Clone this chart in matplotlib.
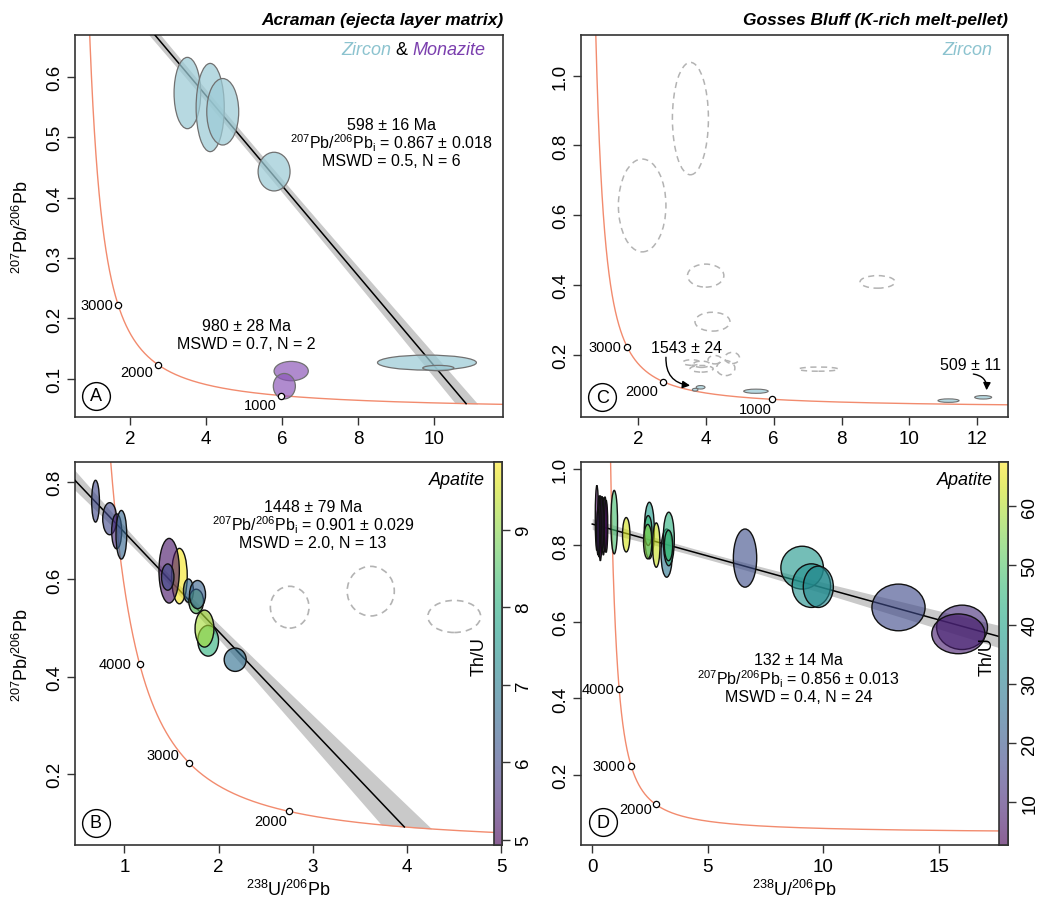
import numpy as np
import matplotlib
matplotlib.use('Agg')
import matplotlib.pyplot as plt
from matplotlib.patches import Ellipse
from matplotlib.colors import Normalize, to_rgba

plt.rcParams['font.family'] = ['Liberation Sans', 'DejaVu Sans']
plt.rcParams['mathtext.fontset'] = 'custom'
plt.rcParams['mathtext.rm'] = 'Liberation Sans'
plt.rcParams['mathtext.it'] = 'Liberation Sans:italic'
plt.rcParams['mathtext.bf'] = 'Liberation Sans:bold'

# ---------------- constants for Tera-Wasserburg concordia ----------------
L238 = 1.55125e-4   # per Ma
L235 = 9.8485e-4
U85 = 137.818
conc_ages = [1000, 2000, 3000, 4000]

# ---------------- Panel A : Acraman zircon & monazite ----------------
A_zr_x = [3.51, 4.11, 4.44, 5.79, 9.81, 10.11]
A_zr_y = [0.573, 0.549, 0.542, 0.443, 0.127, 0.118]
A_zr_sx = [0.35, 0.37, 0.42, 0.42, 1.30, 0.41]
A_zr_sy = [0.059, 0.073, 0.055, 0.032, 0.0124, 0.0044]
A_mz_x = [6.24, 6.06]
A_mz_y = [0.113, 0.088]
A_mz_sx = [0.45, 0.29]
A_mz_sy = [0.016, 0.021]
A_y0 = 0.867
A_x1 = 10.84
A_text = ["598 ± 16 Ma", "$^{207}$Pb/$^{206}$Pb$_{\\mathrm{i}}$ = 0.867 ± 0.018", "MSWD = 0.5, N = 6"]
A_text2 = ["980 ± 28 Ma", "MSWD = 0.7, N = 2"]

# ---------------- Panel B : Acraman apatite ----------------
B_x = [0.694, 0.844, 0.918, 0.968, 1.584, 1.475, 1.46, 1.68, 1.762, 1.776, 1.889, 1.85, 2.176]
B_y = [0.761, 0.725, 0.699, 0.692, 0.607, 0.618, 0.605, 0.577, 0.555, 0.569, 0.474, 0.499, 0.435]
B_sx = [0.041, 0.074, 0.053, 0.057, 0.083, 0.108, 0.066, 0.053, 0.078, 0.085, 0.11, 0.10, 0.117]
B_sy = [0.043, 0.033, 0.036, 0.050, 0.057, 0.0665, 0.027, 0.024, 0.025, 0.029, 0.0316, 0.038, 0.024]
B_thu = [6.0, 6.0, 5.5, 6.5, 9.8, 5.2, 6.0, 6.6, 8.6, 6.4, 8.1, 9.2, 6.7]
B_ex_x = [2.754, 3.614, 4.50]
B_ex_y = [0.543, 0.576, 0.524]
B_ex_sx = [0.205, 0.25, 0.28]
B_ex_sy = [0.043, 0.051, 0.033]
B_y0 = 0.901
B_age = 1448
B_text = ["1448 ± 79 Ma", "$^{207}$Pb/$^{206}$Pb$_{\\mathrm{i}}$ = 0.901 ± 0.029", "MSWD = 2.0, N = 13"]
B_cb_ticks = [5, 6, 7, 8, 9]

# ---------------- Panel C : Gosses Bluff zircon ----------------
C_ex_x = [2.13, 3.55, 4.00, 4.20, 9.06, 7.32, 3.58, 3.88, 3.88, 4.27, 4.59, 4.78]
C_ex_y = [0.628, 0.877, 0.427, 0.295, 0.409, 0.159, 0.178, 0.173, 0.160, 0.186, 0.162, 0.191]
C_ex_sx = [0.70, 0.53, 0.535, 0.515, 0.515, 0.59, 0.255, 0.245, 0.34, 0.20, 0.27, 0.216]
C_ex_sy = [0.133, 0.161, 0.033, 0.027, 0.018, 0.006, 0.008, 0.009, 0.0095, 0.012, 0.0215, 0.016]
C_zr_x = [3.85, 3.69, 5.48, 11.15, 12.17]
C_zr_y = [0.107, 0.100, 0.0957, 0.0688, 0.0783]
C_zr_sx = [0.13, 0.083, 0.36, 0.31, 0.25]
C_zr_sy = [0.005, 0.004, 0.006, 0.005, 0.005]
C_ann = ["1543 ± 24", "509 ± 11"]

# ---------------- Panel D : Gosses Bluff apatite ----------------
D_x = [0.20, 0.30, 0.35, 0.42, 0.48, 0.55, 0.60, 0.25, 0.95, 1.47, 2.47, 2.42, 2.40, 2.77,
       3.22, 3.31, 3.30, 6.61, 9.08, 9.48, 9.78, 13.25, 16.0, 15.84]
D_y = [0.872, 0.850, 0.845, 0.858, 0.850, 0.855, 0.850, 0.835, 0.861, 0.828, 0.839, 0.839, 0.810, 0.801,
       0.780, 0.817, 0.800, 0.767, 0.742, 0.695, 0.692, 0.638, 0.586, 0.569]
D_sx = [0.07, 0.08, 0.07, 0.08, 0.07, 0.08, 0.07, 0.06, 0.144, 0.16, 0.216, 0.16, 0.18, 0.16,
        0.245, 0.24, 0.18, 0.505, 0.92, 0.83, 0.65, 1.15, 1.10, 1.15]
D_sy = [0.085, 0.080, 0.085, 0.070, 0.075, 0.072, 0.068, 0.060, 0.083, 0.045, 0.074, 0.039, 0.045, 0.058,
        0.063, 0.070, 0.040, 0.076, 0.056, 0.057, 0.054, 0.061, 0.058, 0.052]
D_thu = [4, 6, 3, 7, 5, 8, 4, 9, 48, 63, 38, 46, 56, 62,
         28, 44, 47, 18, 37, 35, 33, 17, 11, 8]
D_y0 = 0.856
D_age = 132
D_text = ["132 ± 14 Ma", "$^{207}$Pb/$^{206}$Pb$_{\\mathrm{i}}$ = 0.856 ± 0.013", "MSWD = 0.4, N = 24"]
D_cb_ticks = [10, 20, 30, 40, 50, 60]


def concordia(t):
    e8 = np.exp(L238 * np.asarray(t, float)) - 1
    e5 = np.exp(L235 * np.asarray(t, float)) - 1
    return 1 / e8, e5 / e8 / U85


def conc_y_from_x(x):
    t = np.log1p(1 / np.asarray(x, float)) / L238
    return concordia(t)[1]


W, H = 1037, 903
fig = plt.figure(figsize=(W / 100, H / 100), dpi=100)


def px_axes(l, t, r, b):
    return fig.add_axes([l / W, 1 - b / H, (r - l) / W, (b - t) / H])


axA = px_axes(75, 36, 503, 418)
axC = px_axes(580.7, 36, 1008.3, 418.3)
axB = px_axes(75, 463.3, 502.3, 846)
axD = px_axes(580.7, 463.3, 1008.3, 846)

lims = {
    'A': ((0.555, 11.81), (0.037, 0.669)),
    'B': ((0.476, 5.01), (0.054, 0.841)),
    'C': ((0.32, 12.91), (0.021, 1.1165)),
    'D': ((-0.50, 18.0), (0.017, 1.0174)),
}
xt = {'A': [2, 4, 6, 8, 10], 'B': [1, 2, 3, 4, 5], 'C': [2, 4, 6, 8, 10, 12], 'D': [0, 5, 10, 15]}
yt = {'A': [0.1, 0.2, 0.3, 0.4, 0.5, 0.6], 'B': [0.2, 0.4, 0.6, 0.8],
      'C': [0.2, 0.4, 0.6, 0.8, 1.0], 'D': [0.2, 0.4, 0.6, 0.8, 1.0]}

CONC_COL = '#f28b6e'
SPINE = '#333333'
TICK_FS = 13.5

for key, ax in zip('ABCD', [axA, axB, axC, axD]):
    ax.set_xlim(*lims[key][0])
    ax.set_ylim(*lims[key][1])
    ax.set_xticks(xt[key])
    ax.set_xticklabels([str(v) for v in xt[key]])
    ax.set_yticks(yt[key])
    ax.set_yticklabels(['{:.1f}'.format(v) for v in yt[key]])
    ax.tick_params(direction='out', length=5.5, width=1, pad=3, labelsize=TICK_FS, color=SPINE)
    ax.tick_params(axis='x', pad=4)
    for lbl in ax.get_yticklabels():
        lbl.set_rotation(90)
        lbl.set_va('center')
    for s in ax.spines.values():
        s.set_color(SPINE)
        s.set_linewidth(1.2)
    # concordia
    tt = np.linspace(15, 6500, 3000)
    cx, cy = concordia(tt)
    ax.plot(cx, cy, color=CONC_COL, lw=1.0, zorder=2)


def add_ellipses(ax, xs, ys, sx, sy, fcs, ec, lw=1.0, ls='-', z=4):
    for i, (x, y, a, b) in enumerate(zip(xs, ys, sx, sy)):
        fc = fcs[i] if isinstance(fcs, list) else fcs
        ax.add_patch(Ellipse((x, y), 2 * a, 2 * b, facecolor=fc, edgecolor=ec,
                             lw=lw, linestyle=ls, zorder=z))


def draw_isochron(ax, y0, x1, y1, xc, a, b, xmin, xmax):
    slope = (y1 - y0) / x1
    xs = np.linspace(xmin, xmax, 800)
    w = np.sqrt(a ** 2 + (b * (xs - xc)) ** 2)
    yl = y0 + slope * xs
    up = yl + w
    lo = np.where(xs > 0.7 * x1, np.maximum(yl - w, conc_y_from_x(xs)), yl - w)
    ax.fill_between(xs, lo, up, where=up > lo, color='#c9c9c9', lw=0, zorder=1)
    xe = min(x1, xmax)
    ax.plot([xmin, xe], [y0 + slope * xmin, y0 + slope * xe], color='black', lw=1.1, zorder=3)


def conc_markers(ax, offsets, ages):
    cx, cy = concordia(ages)
    ax.plot(cx, cy, 'o', ms=4.5, mfc='white', mec='black', mew=0.9, zorder=6)
    for age, x, y, off in zip(ages, cx, cy, offsets):
        ax.annotate(str(age), (x, y), xytext=off, textcoords='offset points',
                    ha='right', va='center', fontsize=10.5, zorder=7)


def panel_letter(ax, letter, pos):
    ax.plot(*pos, 'o', ms=20, mfc='white', mec='black', mew=1.0, transform=ax.transAxes,
            clip_on=False, zorder=10)
    ax.text(*pos, letter, transform=ax.transAxes, ha='center', va='center', fontsize=13, zorder=11)


ZR_FC = to_rgba('#9ccbd6', 0.72)
ZR_EC = '#707070'
MZ_FC = to_rgba('#8b55b8', 0.68)
cmap = plt.get_cmap('viridis')

# ---------------- Panel A ----------------
xA1 = A_x1
yA1 = float(conc_y_from_x(A_x1))
draw_isochron(axA, A_y0, xA1, yA1, 4.5, 0.010, 0.003, 0.0, A_x1 + 0.6)
add_ellipses(axA, A_zr_x, A_zr_y, A_zr_sx, A_zr_sy, ZR_FC, ZR_EC, lw=0.9)
add_ellipses(axA, A_mz_x, A_mz_y, A_mz_sx, A_mz_sy, MZ_FC, ZR_EC, lw=0.9)
conc_markers(axA, [(-3.5, 0), (-3.7, -5), (-2.7, -6.5)], [3000, 2000, 1000])
for s, yy in zip(A_text, [0.5207, 0.4909, 0.4607]):
    axA.text(8.88, yy, s, ha='center', va='center', fontsize=11.5, zorder=8)
for s, yy in zip(A_text2, [0.1884, 0.158]):
    axA.text(5.07, yy, s, ha='center', va='center', fontsize=11.5, zorder=8)
t3 = axA.text(0.96, 0.961, "Monazite", transform=axA.transAxes, ha='right', va='center',
              fontsize=13, style='italic', color='#7b3fae')
t2 = axA.annotate(" & ", xy=(0, 0), xycoords=t3, ha='right', va='bottom', fontsize=13, color='black')
axA.annotate("Zircon", xy=(0, 0), xycoords=t2, ha='right', va='bottom', fontsize=13,
             style='italic', color='#8cc3cf')
axA.set_title('Acraman (ejecta layer matrix)', loc='right', fontsize=12.5, fontweight='bold',
              style='italic', pad=8)
panel_letter(axA, 'A', (0.049, 0.055))

# ---------------- Panel B ----------------
normB = Normalize(4.93, 9.87)
xB1, yB1 = concordia(B_age)
draw_isochron(axB, B_y0, float(xB1), float(yB1), 1.4, 0.010, 0.019, 0.0, float(xB1) + 0.5)
add_ellipses(axB, B_ex_x, B_ex_y, B_ex_sx, B_ex_sy, 'none', '#b3b3b3', lw=1.2, ls=(0, (4, 3)))
add_ellipses(axB, B_x, B_y, B_sx, B_sy, [to_rgba(cmap(normB(v)), 0.62) for v in B_thu], '#111111', lw=1.0)
conc_markers(axB, [(-5.8, 0), (-7, 5.7), (-1.6, -7)], [4000, 3000, 2000])
for s, yy in zip(B_text, [0.7506, 0.7128, 0.6751]):
    axB.text(3.0, yy, s, ha='center', va='center', fontsize=11.5, zorder=8)
axB.text(0.96, 0.955, "Apatite", transform=axB.transAxes, ha='right', va='center',
         fontsize=13, style='italic')
panel_letter(axB, 'B', (0.049, 0.0575))

# ---------------- Panel C ----------------
add_ellipses(axC, C_ex_x, C_ex_y, C_ex_sx, C_ex_sy, 'none', '#b3b3b3', lw=1.1, ls=(0, (4, 3)))
add_ellipses(axC, C_zr_x, C_zr_y, C_zr_sx, C_zr_sy, ZR_FC, ZR_EC, lw=0.8)
conc_markers(axC, [(-3.9, 0), (-3.5, -6.4), (0, -6.9)], [3000, 2000, 1000])
axC.text(3.44, 0.22, C_ann[0], ha='center', va='center', fontsize=11.5)
axC.text(11.79, 0.172, C_ann[1], ha='center', va='center', fontsize=11.5)
axC.annotate('', xy=(3.54, 0.112), xytext=(2.83, 0.193),
             arrowprops=dict(arrowstyle='-|>', color='black', lw=1.0, mutation_scale=11,
                             connectionstyle='arc3,rad=0.45', shrinkA=0, shrinkB=0))
axC.annotate('', xy=(12.27, 0.0985), xytext=(11.88, 0.145),
             arrowprops=dict(arrowstyle='-|>', color='black', lw=1.0, mutation_scale=11,
                             connectionstyle='arc3,rad=-0.45', shrinkA=0, shrinkB=0))
axC.text(0.963, 0.961, "Zircon", transform=axC.transAxes, ha='right', va='center',
         fontsize=13, style='italic', color='#8cc3cf')
axC.set_title('Gosses Bluff (K-rich melt-pellet)', loc='right', fontsize=12.5, fontweight='bold',
              style='italic', pad=8)
panel_letter(axC, 'C', (0.0505, 0.053))

# ---------------- Panel D ----------------
normD = Normalize(2.8, 67.4)
xD1, yD1 = concordia(D_age)
draw_isochron(axD, D_y0, float(xD1), float(yD1), 5.0, 0.009, 0.0022, 0.0, 18.0)
add_ellipses(axD, D_x, D_y, D_sx, D_sy, [to_rgba(cmap(normD(v)), 0.62) for v in D_thu], '#111111', lw=1.0)
conc_markers(axD, [(-3, 0), (-4.5, 0), (-3, -3.3)], [4000, 3000, 2000])
for s, yy in zip(D_text, [0.5015, 0.4527, 0.4048]):
    axD.text(8.92, yy, s, ha='center', va='center', fontsize=11.5, zorder=8)
axD.text(0.9635, 0.955, "Apatite", transform=axD.transAxes, ha='right', va='center',
         fontsize=13, style='italic')
panel_letter(axD, 'D', (0.051, 0.059))

# ---------------- colour bars ----------------
def colorbar(l, r, norm, ticks, label_x):
    cax = px_axes(l, 463.3, r, 846)
    grad = np.linspace(norm.vmin, norm.vmax, 256).reshape(-1, 1)
    cax.imshow(grad, cmap=cmap, norm=norm, alpha=0.62, aspect='auto', origin='lower',
               extent=(0, 1, norm.vmin, norm.vmax))
    cax.set_xlim(0, 1)
    cax.set_ylim(norm.vmin, norm.vmax)
    cax.set_xticks([])
    cax.yaxis.tick_right()
    cax.set_yticks(ticks)
    cax.set_yticklabels([str(t) for t in ticks])
    cax.tick_params(axis='y', direction='out', length=5.5, width=1, pad=4, labelsize=TICK_FS,
                    color=SPINE)
    for lbl in cax.get_yticklabels():
        lbl.set_rotation(90)
        lbl.set_va('center')
        lbl.set_ha('left')
    for s in cax.spines.values():
        s.set_color(SPINE)
        s.set_linewidth(1.2)
    fig.text(label_x / W, 1 - 656.7 / H, 'Th/U', rotation=90, ha='center', va='center',
             fontsize=13, zorder=20)

colorbar(494.3, 502.3, normB, B_cb_ticks, 479.3)
colorbar(999.3, 1008.3, normD, D_cb_ticks, 986.7)

# ---------------- axis labels ----------------
ylab = '$^{207}$Pb/$^{206}$Pb'
xlab = '$^{238}$U/$^{206}$Pb'
fig.text(22 / W, 1 - 227 / H, ylab, rotation=90, ha='center', va='center', fontsize=13)
fig.text(22 / W, 1 - 655 / H, ylab, rotation=90, ha='center', va='center', fontsize=13)
fig.text(288 / W, 1 - 890 / H, xlab, ha='center', va='center', fontsize=13)
fig.text(794 / W, 1 - 890 / H, xlab, ha='center', va='center', fontsize=13)

fig.savefig('out.png', dpi=100)
